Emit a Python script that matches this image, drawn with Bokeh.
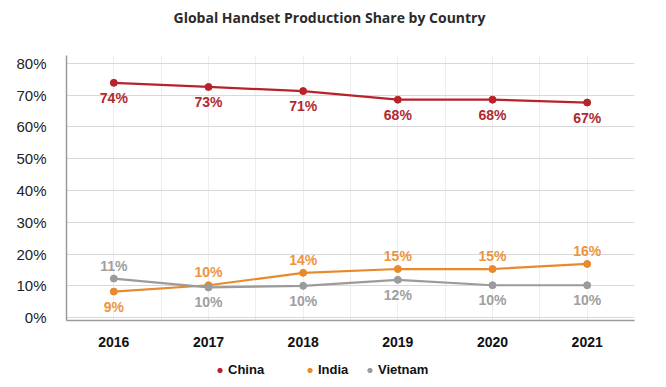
from bokeh.plotting import figure
from bokeh.layouts import column
from bokeh.models import Range1d, FixedTicker, Legend, LegendItem, ColumnDataSource, Label
from bokeh.core.properties import value
from bokeh.embed import file_html
from bokeh.resources import INLINE

title_text = "Global Handset Production Share by Country"
years = ["2016", "2017", "2018", "2019", "2020", "2021"]
china = [73.9, 72.6, 71.3, 68.6, 68.6, 67.7]
india = [8.2, 10.2, 14.1, 15.3, 15.3, 16.9]
vietnam = [12.3, 9.5, 10.0, 11.9, 10.2, 10.2]
china_labels = ["74%", "73%", "71%", "68%", "68%", "67%"]
india_labels = ["9%", "10%", "14%", "15%", "15%", "16%"]
vietnam_labels = ["11%", "10%", "10%", "12%", "10%", "10%"]
china_label_pos = ["below"] * 6
india_label_pos = ["below", "above", "above", "above", "above", "above"]
vietnam_label_pos = ["above", "below", "below", "below", "below", "below"]
y_ticks = [0, 10, 20, 30, 40, 50, 60, 70, 80]
y_tick_labels = ["0%", "10%", "20%", "30%", "40%", "50%", "60%", "70%", "80%"]

xs = [i + 0.5 for i in range(len(years))]


def strip(h):
    f = figure(width=666, height=h, output_backend="svg", toolbar_location=None,
               x_axis_type=None, y_axis_type=None,
               x_range=Range1d(0, 1), y_range=Range1d(0, 1),
               min_border_left=0, min_border_right=0, min_border_top=0, min_border_bottom=0)
    f.grid.visible = False
    f.outline_line_color = None
    f.border_fill_color = "white"
    f.background_fill_color = "white"
    return f


# title strip (its frame is aligned with the chart frame by the column layout)
tf = strip(34)
tf.add_layout(Label(x=0.463, y=0.5, text=title_text, text_align="center", text_baseline="middle",
                    text_font="Open Sans", text_font_size="14px", text_font_style="bold",
                    text_color="#2b2b2b"))

p = figure(width=666, height=323, output_backend="svg", toolbar_location=None,
           x_range=Range1d(0, len(years)), y_range=Range1d(-0.9, 82.5),
           min_border_left=66, min_border_right=32, min_border_top=21, min_border_bottom=37)
p.outline_line_color = None
p.background_fill_color = "white"
p.border_fill_color = "white"

p.xaxis.ticker = FixedTicker(ticks=xs)
p.xaxis.major_label_overrides = {x: y for x, y in zip(xs, years)}
p.xaxis.major_label_text_font = "Liberation Sans"
p.xaxis.major_label_text_font_size = "14px"
p.xaxis.major_label_text_font_style = "bold"
p.xaxis.major_label_text_color = "#111111"
p.xaxis.major_label_standoff = 10
p.xaxis.major_tick_line_color = None
p.xaxis.minor_tick_line_color = None
p.xaxis.axis_line_color = "#9a9a9a"
p.xaxis.axis_line_width = 1.5

p.yaxis.ticker = FixedTicker(ticks=y_ticks)
p.yaxis.major_label_overrides = {t: l for t, l in zip(y_ticks, y_tick_labels)}
p.yaxis.major_label_text_font = "Liberation Sans"
p.yaxis.major_label_text_font_size = "15px"
p.yaxis.major_label_text_color = "#222222"
p.yaxis.major_label_standoff = 14
p.yaxis.major_tick_line_color = None
p.yaxis.minor_tick_line_color = None
p.yaxis.axis_line_color = "#9a9a9a"
p.yaxis.axis_line_width = 1.5

p.xgrid.ticker = FixedTicker(ticks=[i * 0.5 for i in range(2 * len(years) + 1)])
p.xgrid.grid_line_color = "#eeeeee"
p.ygrid.grid_line_color = "#d9d9d9"

series = [
    ("China", china, china_labels, china_label_pos, "#b8232b", "#b02a30", 148),
    ("India", india, india_labels, india_label_pos, "#e8892b", "#ec9440", 238),
    ("Vietnam", vietnam, vietnam_labels, vietnam_label_pos, "#9b9b9b", "#a0a0a0", 298),
]

# legend strip below the chart (its markers sit outside its own 0..1 range, only the legend shows)
lg = strip(30)

for name, vals, labs, pos, color, lcolor, lx in series:
    src = ColumnDataSource(dict(x=xs, y=vals, lab=labs))
    p.line("x", "y", source=src, line_color=color, line_width=2.2)
    p.scatter("x", "y", source=src, size=7, fill_color=color, line_color=color)
    above_idx = [i for i, q in enumerate(pos) if q == "above"]
    below_idx = [i for i, q in enumerate(pos) if q == "below"]
    for idx, base, off in ((above_idx, "bottom", -5), (below_idx, "top", 7)):
        if not idx:
            continue
        s2 = ColumnDataSource(dict(x=[xs[i] for i in idx], y=[vals[i] for i in idx],
                                   lab=[labs[i] for i in idx]))
        p.text("x", "y", text="lab", source=s2, text_align="center", text_baseline=base,
               y_offset=off, text_font=value("Liberation Sans"), text_font_size="14px",
               text_font_style="bold", text_color=lcolor)
    lr = lg.scatter("x", "y", source=src, size=9, fill_color=color, line_color=color)
    legend = Legend(items=[LegendItem(label=name, renderers=[lr])], location=(lx, 10),
                    label_text_font="Liberation Sans", label_text_font_size="13px",
                    label_text_font_style="bold", label_text_color="#111111",
                    border_line_color=None, background_fill_alpha=0,
                    glyph_width=11, glyph_height=12, label_standoff=3,
                    padding=0, margin=0, label_height=12)
    lg.add_layout(legend, "center")

layout = column(tf, p, lg, spacing=0)
open("out.html", "w").write(file_html(layout, INLINE))
